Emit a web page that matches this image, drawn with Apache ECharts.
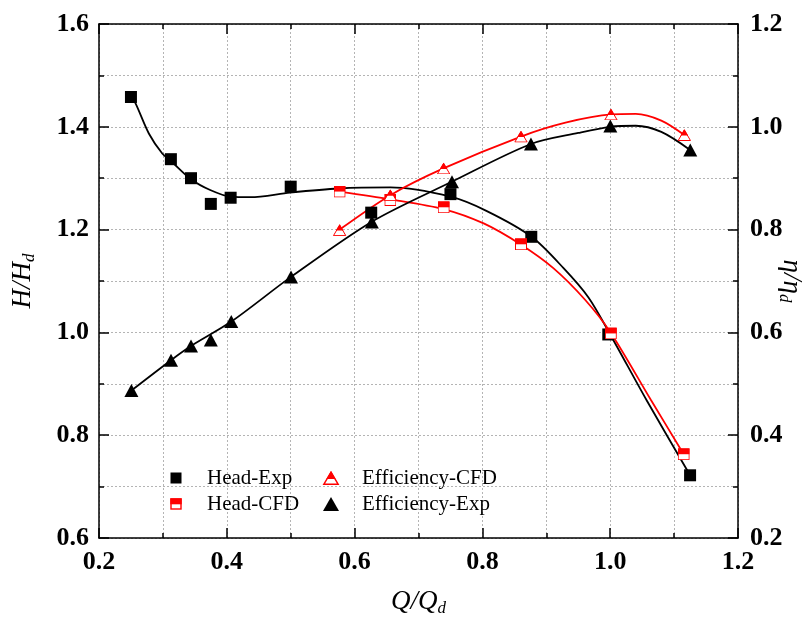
<!DOCTYPE html>
<html><head><meta charset="utf-8">
<script src="https://cdn.jsdelivr.net/npm/echarts@6/dist/echarts.min.js"></script>
<style>html,body{margin:0;padding:0;background:#fff}#c{width:806px;height:618px}</style>
</head><body><div id="c"></div>
<script>
// ---- data ----
const xTickLabels = ['0.2','0.4','0.6','0.8','1.0','1.2'];
const yLeftTickLabels = ['0.6','0.8','1.0','1.2','1.4','1.6'];
const yRightTickLabels = ['0.2','0.4','0.6','0.8','1.0','1.2'];

// markers
const headExpQ = [0.25, 0.3125, 0.344, 0.375, 0.406, 0.5, 0.626, 0.75, 0.8765, 0.997, 1.125];
const headExpH = [1.458, 1.337, 1.300, 1.250, 1.262, 1.2835, 1.233, 1.269, 1.186, 0.996, 0.722];
const headCfdQ = [0.5765, 0.656, 0.7394, 0.8604, 1.001, 1.115];
const headCfdH = [1.274, 1.2576, 1.2434, 1.1714, 0.998, 0.763];
const effCfdQ = [0.5766, 0.6559, 0.7393, 0.8604, 1.0012, 1.116];
const effCfdE = [0.799, 0.867, 0.919, 0.981, 1.024, 0.984];
const effExpQ = [0.2507, 0.3127, 0.344, 0.375, 0.407, 0.5005, 0.627, 0.7524, 0.876, 1.0002, 1.1253];
const effExpE = [0.487, 0.546, 0.5735, 0.585, 0.621, 0.708, 0.815, 0.893, 0.9665, 1.0016, 0.955];

// fitted curves
const headExpFitQ = [0.25, 0.257, 0.278, 0.299, 0.313, 0.344, 0.374, 0.406, 0.437, 0.499, 0.575, 0.656, 0.750, 0.807, 0.877, 0.927, 0.966, 1.0, 1.057, 1.125];
const headExpFitH = [1.458, 1.446, 1.387, 1.348, 1.333, 1.298, 1.277, 1.264, 1.263, 1.272, 1.280, 1.282, 1.264, 1.236, 1.186, 1.125, 1.068, 0.996, 0.868, 0.722];
const headCfdFitQ = [0.5765, 0.656, 0.739, 0.802, 0.860, 0.911, 0.961, 1.001, 1.064, 1.115];
const headCfdFitH = [1.274, 1.259, 1.240, 1.212, 1.171, 1.125, 1.063, 0.999, 0.868, 0.763];
const effExpFitQ = [0.2507, 0.3127, 0.344, 0.407, 0.5005, 0.627, 0.752, 0.876, 0.95, 1.0, 1.04, 1.08, 1.125];
const effExpFitE = [0.487, 0.546, 0.5735, 0.621, 0.708, 0.8154, 0.893, 0.9665, 0.988, 1.0, 1.002, 0.99, 0.955];
const effCfdFitQ = [0.5766, 0.656, 0.739, 0.8604, 0.93, 1.0012, 1.04, 1.08, 1.116];
const effCfdFitE = [0.80, 0.867, 0.919, 0.981, 1.008, 1.024, 1.025, 1.012, 0.984];

// ---- helpers ----
const FONT = '"Liberation Serif", "Times New Roman", serif';
const zip = (a, b) => a.map((v, i) => [v, b[i]]);
const svgURL = s => 'image://data:image/svg+xml;charset=utf-8,' + encodeURIComponent(s);
const NS = 'xmlns="http://www.w3.org/2000/svg"';

const symSqHalf = svgURL(`<svg ${NS} width="24" height="24" viewBox="0 0 24 24"><rect x="1" y="1" width="22" height="22" fill="#fff" stroke="#f00" stroke-width="2"/><rect x="0" y="0" width="24" height="12" fill="#f00"/></svg>`);
const symTriHalf = svgURL(`<svg ${NS} width="28" height="24" viewBox="0 0 28 24"><polygon points="14,2 26.3,23 1.7,23" fill="#fff" stroke="#f00" stroke-width="2"/><polygon points="14,0 21.6,13 6.4,13" fill="#f00"/></svg>`);

const legSqBlack = svgURL(`<svg ${NS} width="40" height="14" viewBox="0 0 40 14"><rect x="8.5" y="1.5" width="11" height="11" fill="#000"/></svg>`);
const legSqHalf = svgURL(`<svg ${NS} width="40" height="14" viewBox="0 0 40 14"><rect x="9" y="2" width="10" height="10" fill="#fff" stroke="#f00" stroke-width="1.4"/><rect x="8.3" y="1.3" width="11.4" height="6" fill="#f00"/></svg>`);
const legTriHalf = svgURL(`<svg ${NS} width="40" height="14" viewBox="0 0 40 14"><polygon points="14,1.2 21.2,13.3 6.8,13.3" fill="#fff" stroke="#f00" stroke-width="1.4"/><polygon points="14,0 18.6,8 9.4,8" fill="#f00"/></svg>`);
const legTriBlack = svgURL(`<svg ${NS} width="40" height="14" viewBox="0 0 40 14"><polygon points="14,0 22,14 6,14" fill="#000"/></svg>`);

const axisLineStyle = { color: '#000', width: 1.5 };
const gridLineStyle = { color: '#b4b4b4', width: 1, type: [2, 2] };
const labelStyle = (arr, extra) => Object.assign({
  fontFamily: FONT, fontWeight: 'bold', fontSize: 26, color: '#000',
  formatter: v => { const s = v.toFixed(1); return arr.indexOf(s) >= 0 ? s : ''; }
}, extra);
const nameStyle = {
  fontFamily: FONT, fontStyle: 'italic', fontSize: 27, color: '#000',
  rich: {
    a: { fontFamily: FONT, fontStyle: 'italic', fontSize: 27, lineHeight: 30, color: '#000' },
    s: { fontFamily: FONT, fontStyle: 'italic', fontSize: 17, lineHeight: 12, verticalAlign: 'bottom', color: '#000' }
  }
};
const commonAxis = (min, max) => ({
  type: 'value', min: min, max: max, interval: 0.2,
  nameMoveOverlap: false,
  axisLine: { show: true, onZero: false, lineStyle: axisLineStyle },
  axisTick: { show: true, inside: true, length: 10, lineStyle: axisLineStyle },
  minorTick: { show: true, splitNumber: 2, length: 5, lineStyle: axisLineStyle }
});

const chart = echarts.init(document.getElementById('c'));
chart.setOption({
  animation: false,
  backgroundColor: '#fff',
  grid: { left: 99, right: 68, top: 24, bottom: 80, containLabel: false, outerBoundsMode: 'none' },
  legend: [
    { orient: 'vertical', left: 162, top: 467, padding: 0, itemWidth: 40, itemHeight: 14, itemGap: 4,
      selectedMode: false,
      textStyle: { fontFamily: FONT, fontSize: 21, color: '#000', lineHeight: 22 },
      data: [{ name: 'Head-Exp', icon: legSqBlack }, { name: 'Head-CFD', icon: legSqHalf }] },
    { orient: 'vertical', left: 317, top: 467, padding: 0, itemWidth: 40, itemHeight: 14, itemGap: 4,
      selectedMode: false,
      textStyle: { fontFamily: FONT, fontSize: 21, color: '#000', lineHeight: 22 },
      data: [{ name: 'Efficiency-CFD', icon: legTriHalf }, { name: 'Efficiency-Exp', icon: legTriBlack }] }
  ],
  xAxis: [
    Object.assign(commonAxis(0.2, 1.2), {
      position: 'bottom',
      axisLabel: labelStyle(xTickLabels, { margin: 11 }),
      splitLine: { show: true, lineStyle: gridLineStyle },
      minorSplitLine: { show: true, lineStyle: gridLineStyle },
      name: '{a|Q/Q}{s|d}', nameLocation: 'middle', nameGap: 49, nameTextStyle: nameStyle
    }),
    Object.assign(commonAxis(0.2, 1.2), {
      position: 'top',
      axisLabel: { show: false },
      splitLine: { show: false }, minorSplitLine: { show: false }
    })
  ],
  yAxis: [
    Object.assign(commonAxis(0.6, 1.6), {
      position: 'left',
      axisLabel: labelStyle(yLeftTickLabels, { margin: 10 }),
      splitLine: { show: true, lineStyle: gridLineStyle },
      minorSplitLine: { show: true, lineStyle: gridLineStyle },
      name: '{a|H/H}{s|d}', nameLocation: 'middle', nameRotate: 90, nameGap: 61, nameTextStyle: nameStyle
    }),
    Object.assign(commonAxis(0.2, 1.2), {
      position: 'right',
      axisLabel: labelStyle(yRightTickLabels, { margin: 12 }),
      splitLine: { show: false }, minorSplitLine: { show: false },
      name: '{a|η/η}{s|d}', nameLocation: 'middle', nameRotate: -90, nameGap: 38, nameTextStyle: nameStyle
    })
  ],
  series: [
    { name: 'Head-Exp fit', type: 'line', yAxisIndex: 0, smooth: 0.3, showSymbol: false, silent: true, z: 2,
      lineStyle: { color: '#000', width: 1.8 }, data: zip(headExpFitQ, headExpFitH) },
    { name: 'Head-CFD fit', type: 'line', yAxisIndex: 0, smooth: 0.3, showSymbol: false, silent: true, z: 2,
      lineStyle: { color: '#f00', width: 1.8 }, data: zip(headCfdFitQ, headCfdFitH) },
    { name: 'Efficiency-Exp fit', type: 'line', yAxisIndex: 1, smooth: 0.3, showSymbol: false, silent: true, z: 2,
      lineStyle: { color: '#000', width: 1.8 }, data: zip(effExpFitQ, effExpFitE) },
    { name: 'Efficiency-CFD fit', type: 'line', yAxisIndex: 1, smooth: 0.3, showSymbol: false, silent: true, z: 2,
      lineStyle: { color: '#f00', width: 1.8 }, data: zip(effCfdFitQ, effCfdFitE) },
    { name: 'Head-Exp', type: 'scatter', yAxisIndex: 0, symbol: 'rect', symbolSize: 12, z: 3,
      itemStyle: { color: '#000', opacity: 1 }, data: zip(headExpQ, headExpH) },
    { name: 'Efficiency-Exp', type: 'scatter', yAxisIndex: 1, symbol: 'triangle', symbolSize: [14, 13], z: 3,
      itemStyle: { color: '#000', opacity: 1 }, data: zip(effExpQ, effExpE) },
    { name: 'Head-CFD', type: 'scatter', yAxisIndex: 0, symbol: symSqHalf, symbolSize: 12, z: 4,
      itemStyle: { color: '#f00', opacity: 1 }, data: zip(headCfdQ, headCfdH) },
    { name: 'Efficiency-CFD', type: 'scatter', yAxisIndex: 1, symbol: symTriHalf, symbolSize: [14, 12], z: 4,
      itemStyle: { color: '#f00', opacity: 1 }, data: zip(effCfdQ, effCfdE) }
  ]
});
</script>
</body></html>
